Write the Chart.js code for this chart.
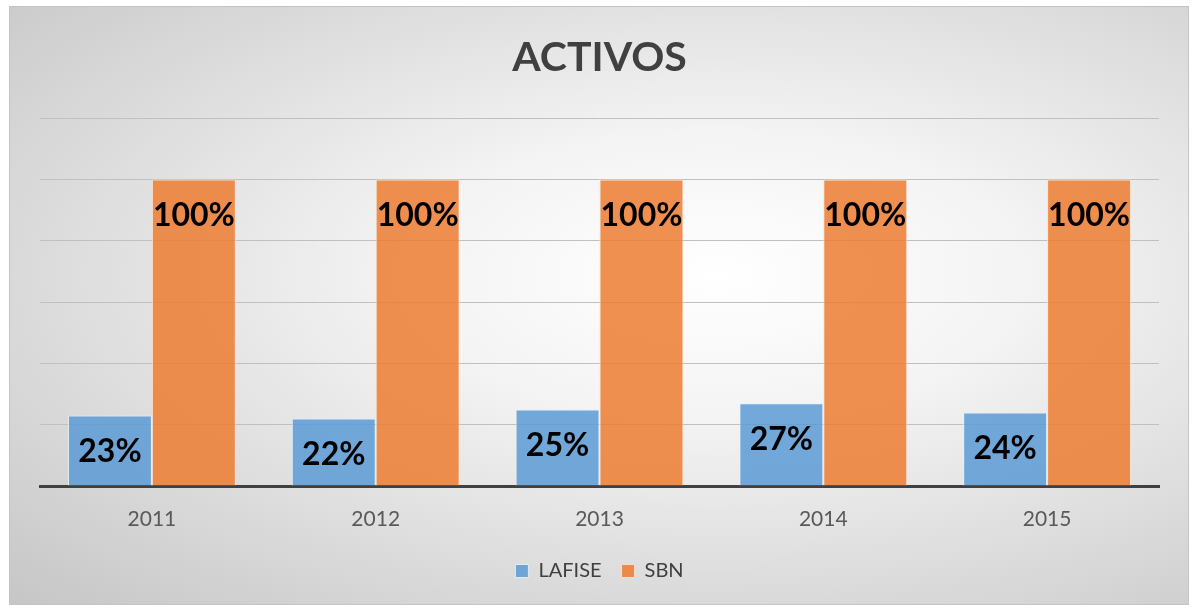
<!DOCTYPE html>
<html>
<head>
<meta charset="utf-8">
<script src="https://cdn.jsdelivr.net/npm/chart.js@4"></script>
<style>
  html, body { margin: 0; padding: 0; background: #ffffff; }
  #box {
    position: absolute;
    left: 9px; top: 6px;
    width: 1180px; height: 599px;
    box-sizing: border-box;
    border: 1px solid #c4c4c4;
    background: radial-gradient(ellipse farthest-corner at 60% 45%, #ffffff 0%, #f4f4f4 30%, #c6c6c6 100%);
  }
  #chart { display: block; }
</style>
</head>
<body>
<div id="box"><canvas id="chart" width="1178" height="597"></canvas></div>
<script>
// Chart data
const years = ["2011", "2012", "2013", "2014", "2015"];
const lafise = [23, 22, 25, 27, 24];
const sbn = [100, 100, 100, 100, 100];

const FONT = "Lato, Carlito, 'Open Sans', sans-serif";

// Draw the bold percentage inside each bar near its top
const barLabels = {
  id: "barLabels",
  afterDatasetsDraw(chart) {
    const ctx = chart.ctx;
    ctx.save();
    ctx.font = "bold 32px " + FONT;
    ctx.fillStyle = "#000000";
    ctx.textAlign = "center";
    ctx.textBaseline = "middle";
    chart.data.datasets.forEach((ds, i) => {
      chart.getDatasetMeta(i).data.forEach((bar, j) => {
        ctx.fillText(ds.data[j] + "%", bar.x, bar.y + 36);
      });
    });
    ctx.restore();
  },
};

new Chart(document.getElementById("chart").getContext("2d"), {
  type: "bar",
  data: {
    labels: years,
    datasets: [
      {
        label: "LAFISE",
        data: lafise,
        backgroundColor: "rgba(91,155,213,0.85)",
        borderColor: "rgba(230,240,250,0.9)",
        borderWidth: 1,
      },
      {
        label: "SBN",
        data: sbn,
        backgroundColor: "rgba(237,125,49,0.85)",
        borderColor: "rgba(250,225,205,0.9)",
        borderWidth: 1,
      },
    ],
  },
  options: {
    responsive: false,
    animation: false,
    layout: { padding: { left: 30, right: 29, top: 0, bottom: 13 } },
    datasets: {
      bar: { categoryPercentage: 0.75, barPercentage: 1.0 },
    },
    scales: {
      x: {
        grid: { display: false, drawTicks: false },
        border: { display: true, color: "#404040", width: 3 },
        ticks: {
          color: "#595959",
          font: { family: FONT, size: 21 },
          padding: 21,
        },
        afterFit: (scale) => { scale.height = 55; },
      },
      y: {
        min: 0,
        max: 120,
        ticks: { display: false, stepSize: 20 },
        grid: { color: "#c0c0c0", lineWidth: 1, drawTicks: false },
        border: { display: false },
      },
    },
    plugins: {
      title: {
        display: true,
        text: "ACTIVOS",
        color: "#404040",
        font: { family: FONT, size: 41, weight: "bold" },
        padding: { top: 26, bottom: 36 },
      },
      legend: {
        position: "bottom",
        labels: {
          color: "#404040",
          font: { family: FONT, size: 20 },
          boxWidth: 13,
          boxHeight: 13,
          padding: 20,
        },
      },
      tooltip: { enabled: false },
    },
  },
  plugins: [barLabels],
});
</script>
</body>
</html>
